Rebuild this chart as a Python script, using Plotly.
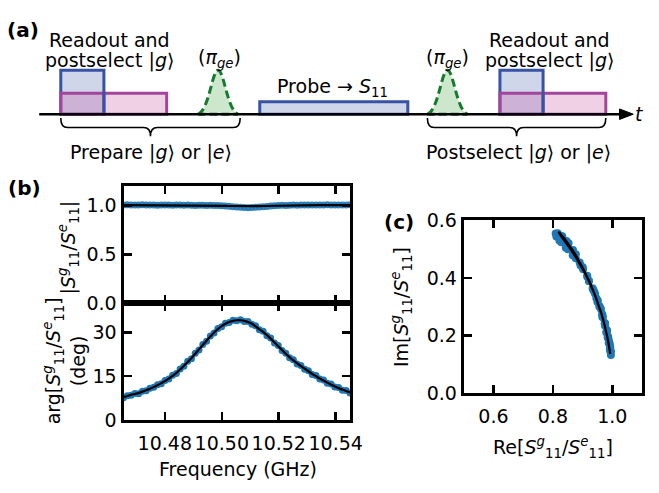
import numpy as np
import plotly.graph_objects as go

FONT = "DejaVu Sans"
W, H = 659, 493

# ---------------- data (panels b, c) ----------------
f_start, f_stop = 10.4655, 10.5450
phase_meas = [7.6, 8.3, 8.5, 9.1, 9.0, 9.8, 10.0, 10.9, 11.2, 12.1, 12.4, 13.5, 14.0, 15.3, 15.9,
              17.5, 18.4, 20.1, 21.0, 22.9, 24.0, 25.9, 27.0, 28.8, 29.8, 31.4, 32.0, 33.2, 33.4,
              34.2, 34.0, 34.4, 33.8, 33.8, 32.8, 32.3, 30.9, 30.4, 28.9, 28.1, 26.4, 25.5, 23.8,
              22.9, 21.3, 20.6, 19.2, 18.7, 17.4, 16.9, 15.6, 15.2, 14.0, 13.7, 12.6, 12.3, 11.3,
              11.1, 10.2, 10.1, 9.2]
phase_fit = [7.8, 8.2, 8.6, 8.9, 9.2, 9.7, 10.2, 10.7, 11.3, 11.9, 12.6, 13.3, 14.2, 15.1, 16.1,
             17.3, 18.6, 19.9, 21.2, 22.7, 24.2, 25.7, 27.2, 28.6, 30.0, 31.2, 32.2, 33.0, 33.6,
             34.0, 34.2, 34.2, 34.0, 33.6, 33.0, 32.1, 31.1, 30.2, 29.1, 27.9, 26.6, 25.3, 24.0,
             22.7, 21.5, 20.4, 19.4, 18.5, 17.6, 16.7, 15.8, 15.0, 14.2, 13.5, 12.8, 12.1, 11.5,
             10.9, 10.4, 9.9, 9.4]
mag_meas = [1.004, 1.006, 1.003, 1.005, 1.004, 1.006, 1.003, 1.005, 1.004, 1.002, 1.005, 1.003,
            1.004, 1.002, 1.004, 1.003, 1.001, 1.003, 1.002, 1.000, 1.002, 1.001, 0.999, 1.001,
            1.000, 0.999, 0.997, 0.994, 0.991, 0.987, 0.984, 0.981, 0.979, 0.977, 0.978, 0.980,
            0.983, 0.986, 0.990, 0.994, 0.997, 0.999, 1.001, 1.000, 1.002, 1.003, 1.002, 1.004,
            1.003, 1.005, 1.004, 1.003, 1.005, 1.004, 1.006, 1.004, 1.005, 1.003, 1.005, 1.004,
            1.006]
mag_fit = [1.002, 1.002, 1.002, 1.002, 1.002, 1.002, 1.002, 1.002, 1.002, 1.002, 1.002, 1.002,
           1.002, 1.002, 1.002, 1.001, 1.001, 1.001, 1.001, 1.001, 1.000, 1.000, 0.999, 0.999,
           0.998, 0.997, 0.996, 0.995, 0.994, 0.993, 0.992, 0.991, 0.991, 0.991, 0.991, 0.992,
           0.993, 0.994, 0.995, 0.996, 0.997, 0.998, 0.999, 1.000, 1.000, 1.001, 1.001, 1.001,
           1.001, 1.002, 1.002, 1.002, 1.002, 1.002, 1.002, 1.002, 1.002, 1.002, 1.002, 1.002,
           1.002]
freq = np.linspace(f_start, f_stop, len(phase_meas))

freq_ticks = [10.48, 10.50, 10.52, 10.54]
mag_ticks = [0.0, 0.5, 1.0]
phase_ticks = [0, 15, 30]
re_ticks = [0.6, 0.8, 1.0]
im_ticks = [0.0, 0.2, 0.4, 0.6]

# complex ratio for panel (c)
re_meas = np.array(mag_meas) * np.cos(np.radians(phase_meas))
im_meas = np.array(mag_meas) * np.sin(np.radians(phase_meas))
re_fit = np.array(mag_fit) * np.cos(np.radians(phase_fit))
im_fit = np.array(mag_fit) * np.sin(np.radians(phase_fit))

# ---------------- schematic (panel a), in pixel units of the figure ----------------
baseline = 108
readout_blocks = [(62, 106), (510, 554)]   # blue readout pulses
readout_top = 62
prep_blocks = [(62, 170), (510, 618)]      # magenta pulses
prep_top = 86
probe_block = (265, 416)
probe_top = 95
pi_centers = [222.5, 456.5]
pi_halfwidth = 20.5
pi_top = 62
braces = [(62, 245), (436, 618)]

BLUE = "#3853a4"
BLUE_FILL = "rgba(56,83,164,0.24)"
MAG = "#a3459c"
MAG_FILL = "rgba(200,80,160,0.27)"
GREEN = "#167a2e"
GREEN_FILL = "#cde7cd"
DOT = "#1f77b4"


def px(x):
    return x / W


def py(y):
    return 1 - y / H


def P(x, y):
    return f"{px(x):.5f},{py(y):.5f}"


fig = go.Figure()

# panel (b) top: magnitude
fig.add_trace(go.Scatter(x=freq, y=mag_meas, mode="markers",
                         marker=dict(color=DOT, size=7, opacity=0.9), xaxis="x", yaxis="y"))
fig.add_trace(go.Scatter(x=freq, y=mag_fit, mode="lines", line=dict(color="black", width=2.2),
                         xaxis="x", yaxis="y"))
# panel (b) bottom: phase
fig.add_trace(go.Scatter(x=freq, y=phase_meas, mode="markers",
                         marker=dict(color=DOT, size=7), xaxis="x2", yaxis="y2"))
fig.add_trace(go.Scatter(x=freq, y=phase_fit, mode="lines",
                         line=dict(color="black", width=2.2, shape="spline"), xaxis="x2", yaxis="y2"))
# panel (c): complex plane
fig.add_trace(go.Scatter(x=re_meas, y=im_meas, mode="markers",
                         marker=dict(color=DOT, size=8), xaxis="x3", yaxis="y3"))
fig.add_trace(go.Scatter(x=re_fit, y=im_fit, mode="lines",
                         line=dict(color="black", width=2.2, shape="spline"), xaxis="x3", yaxis="y3"))

shapes = []
S = dict(xref="paper", yref="paper", layer="above")


def rect(a, b, top, bottom, fill, color):
    return dict(type="path", path=f"M {P(a, bottom)} L {P(a, top)} L {P(b, top)} L {P(b, bottom)} Z",
                fillcolor=fill, line=dict(color=color, width=3), **S)


for a, b in readout_blocks:
    shapes.append(rect(a, b, readout_top, baseline, BLUE_FILL, BLUE))
for a, b in prep_blocks:
    shapes.append(rect(a, b, prep_top, baseline, MAG_FILL, MAG))
for a, b in readout_blocks:
    shapes.append(dict(type="line", x0=px(b), x1=px(b), y0=py(prep_top - 1.5), y1=py(baseline),
                       line=dict(color=BLUE, width=3), **S))
shapes.append(rect(probe_block[0], probe_block[1], probe_top, baseline, BLUE_FILL, BLUE))
# pi pulses (gaussian-like envelopes)
for c in pi_centers:
    w = pi_halfwidth
    path = (f"M {P(c - w, baseline)} C {P(c - w * 0.45, baseline - 4)} {P(c - w * 0.3, pi_top)} {P(c, pi_top)} "
            f"C {P(c + w * 0.3, pi_top)} {P(c + w * 0.45, baseline - 4)} {P(c + w, baseline)} Z")
    shapes.append(dict(type="path", path=path, fillcolor=GREEN_FILL,
                       line=dict(color=GREEN, width=3, dash="8px,4px"), **S))
# time axis with arrow
shapes.append(dict(type="line", x0=px(40), x1=px(636), y0=py(baseline), y1=py(baseline),
                   line=dict(color="black", width=2.5), **S))
shapes.append(dict(type="path", path=f"M {P(632, baseline - 5.5)} L {P(646, baseline)} L {P(632, baseline + 5.5)} Z",
                   fillcolor="black", line=dict(color="black", width=1), **S))
# curly braces
for a, b in braces:
    m = (a + b) / 2
    y0, y1, y2 = 112, 122, 131
    path = (f"M {P(a, y0)} Q {P(a, y1)} {P(a + 7, y1)} L {P(m - 7, y1)} Q {P(m, y1)} {P(m, y2)} "
            f"Q {P(m, y1)} {P(m + 7, y1)} L {P(b - 7, y1)} Q {P(b, y1)} {P(b, y0)}")
    shapes.append(dict(type="path", path=path, line=dict(color="black", width=1.6), **S))

FS = 19
ann = []


def txt(x, y, t, size=FS, angle=0, bold=False):
    ann.append(dict(x=px(x), y=py(y), xref="paper", yref="paper", text=(f"<b>{t}</b>" if bold else t),
                    showarrow=False, xanchor="center", yanchor="middle", textangle=angle,
                    font=dict(family=FONT, size=size, color="black")))


KET_G = "|<i>g</i>⟩"
KET_E = "|<i>e</i>⟩"
txt(112, 30.5, "Readout and")
txt(112, 51.5, f"postselect {KET_G}")
txt(561, 30.5, "Readout and")
txt(561, 51.5, f"postselect {KET_G}")
txt(224, 50, "(<i>π</i><sub><i>ge</i></sub>)")
txt(457, 50, "(<i>π</i><sub><i>ge</i></sub>)")
txt(339, 80, "Probe → <i>S</i><sub>11</sub>")
txt(154, 148, f"Prepare {KET_G} or {KET_E}")
txt(529, 148, f"Postselect {KET_G} or {KET_E}")
txt(652, 108, "<i>t</i>")
txt(23, 20, "(a)", size=20, bold=True)
txt(25, 185, "(b)", size=20, bold=True)
txt(407, 221, "(c)", size=20, bold=True)

RATIO = "<i>S</i><sup><i>g</i></sup><sub>11</sub>/<i>S</i><sup><i>e</i></sup><sub>11</sub>"
txt(70, 248, f"|{RATIO}|", angle=-90)
txt(66, 366, f"arg[{RATIO}]<br>(deg)", angle=-90)
txt(243, 479, "Frequency (GHz)")
txt(409, 310, f"Im[{RATIO}]", angle=-90)
txt(564, 457, f"Re[{RATIO}]")

axis_common = dict(showline=True, linecolor="black", linewidth=3, mirror="ticks", ticks="inside",
                   ticklen=8, tickwidth=2.5, tickcolor="black", showgrid=False, zeroline=False,
                   tickfont=dict(family=FONT, size=FS, color="black"))

xb = [px(126), px(357)]
fig.update_layout(
    width=W, height=H, margin=dict(l=0, r=0, t=0, b=0),
    paper_bgcolor="white", plot_bgcolor="white", showlegend=False,
    font=dict(family=FONT, size=FS, color="black"),
    xaxis=dict(domain=xb, range=[f_start, f_stop], tickvals=freq_ticks, showticklabels=False,
               anchor="y", **axis_common),
    yaxis=dict(domain=[py(306), py(183)], range=[0, 1.2], tickvals=mag_ticks,
               ticktext=[f"{v:.1f}" for v in mag_ticks], anchor="x", **axis_common),
    xaxis2=dict(domain=xb, range=[f_start, f_stop], tickvals=freq_ticks, ticklabelstandoff=4,
                ticktext=[f"{v:.2f}" for v in freq_ticks], anchor="y2", **axis_common),
    yaxis2=dict(domain=[py(428), py(306)], range=[0, 40], tickvals=phase_ticks, anchor="x2", **axis_common),
    xaxis3=dict(domain=[px(473), px(655)], range=[0.5, 1.1], tickvals=re_ticks, ticklabelstandoff=4,
                ticktext=[f"{v:.1f}" for v in re_ticks], anchor="y3", **axis_common),
    yaxis3=dict(domain=[py(400), py(219)], range=[0, 0.6], tickvals=im_ticks,
                ticktext=[f"{v:.1f}" for v in im_ticks], anchor="x3", **axis_common),
    shapes=shapes, annotations=ann,
)

fig.write_html(
    "out.html",
    config={"displayModeBar": False, "staticPlot": True},
    post_script=("document.documentElement.style.overflow='hidden';"
                 "document.body.style.overflow='hidden';document.body.style.margin='0';"),
)
